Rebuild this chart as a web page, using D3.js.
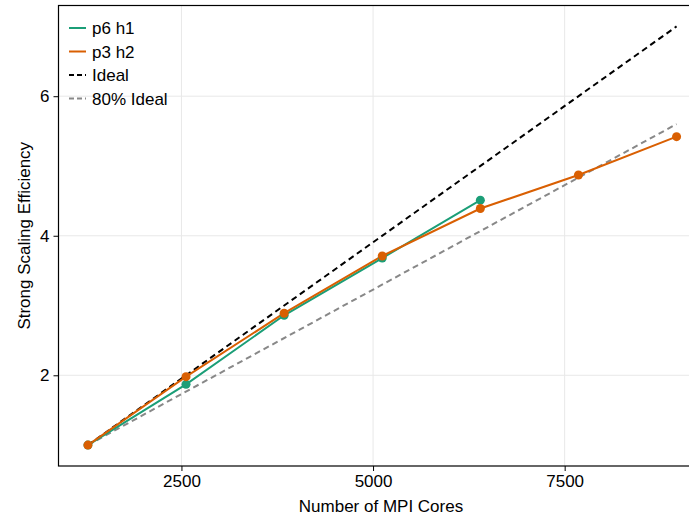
<!DOCTYPE html>
<html>
<head>
<meta charset="utf-8">
<script src="https://cdn.jsdelivr.net/npm/d3@7"></script>
<style>
  body { margin: 0; background: #fff; }
  text { font-family: "Liberation Sans", Arial, sans-serif; fill: #000; }
</style>
</head>
<body>
<div id="chart"></div>
<script>
// data
var cores = [1280, 2560, 3840, 5120, 6400, 7680, 8960];
var p6h1 = [1.0, 1.87, 2.86, 3.68, 4.51];
var p3h2 = [1.0, 1.98, 2.89, 3.71, 4.39, 4.87, 5.42];
var idealX = [1280, 8960];
var idealY = [1, 7];
var ideal80Y = [1, 5.6];
var xTicks = [2500, 5000, 7500];
var yTicks = [2, 4, 6];

const chart_width = 689;
const chart_height = 518;
const font_size = 17;

var svg = d3.select('#chart')
    .append('svg')
    .attr('width', chart_width)
    .attr('height', chart_height);

// makie style autolimits (5% padding)
var x = d3.scaleLinear().domain([896, 9344]).range([58.5, 706]);
var y = d3.scaleLinear().domain([0.7, 7.3]).range([466, 5.5]);

var plotLeft = x.range()[0], plotRight = x.range()[1];
var plotTop = y.range()[1], plotBottom = y.range()[0];

// grid
svg.selectAll('.gx').data(xTicks).enter().append('line')
    .attr('x1', d => x(d)).attr('x2', d => x(d))
    .attr('y1', plotTop).attr('y2', plotBottom)
    .attr('stroke', '#e8e8e8').attr('stroke-width', 1);
svg.selectAll('.gy').data(yTicks).enter().append('line')
    .attr('x1', plotLeft).attr('x2', plotRight)
    .attr('y1', d => y(d)).attr('y2', d => y(d))
    .attr('stroke', '#e8e8e8').attr('stroke-width', 1);

var line = d3.line().x(d => x(d[0])).y(d => y(d[1]));

function drawLine(xs, ys, color, dash) {
    svg.append('path')
        .datum(d3.zip(xs, ys))
        .attr('d', line)
        .attr('fill', 'none')
        .attr('stroke', color)
        .attr('stroke-width', 2)
        .attr('stroke-dasharray', dash || null);
}

drawLine(idealX, idealY, '#000', '6,4');
drawLine(idealX, ideal80Y, '#888', '6,4');
drawLine(cores.slice(0, p6h1.length), p6h1, '#1b9e77');
drawLine(cores, p3h2, '#d95f02');

function drawDots(xs, ys, color) {
    svg.selectAll(null)
        .data(d3.zip(xs, ys))
        .enter()
        .append('circle')
        .attr('cx', d => x(d[0]))
        .attr('cy', d => y(d[1]))
        .attr('r', 4.5)
        .attr('fill', color);
}
drawDots(cores.slice(0, p6h1.length), p6h1, '#1b9e77');
drawDots(cores, p3h2, '#d95f02');

// axes
var xAxis = svg.append('g')
    .attr('transform', 'translate(0,' + plotBottom + ')')
    .call(d3.axisBottom(x).tickValues(xTicks).tickSize(5).tickPadding(4).tickFormat(d3.format('d')));
var yAxis = svg.append('g')
    .attr('transform', 'translate(' + plotLeft + ',0)')
    .call(d3.axisLeft(y).tickValues(yTicks).tickSize(5).tickPadding(4).tickFormat(d3.format('d')));
[xAxis, yAxis].forEach(function(a) {
    a.select('.domain').remove();
    a.selectAll('text').attr('font-size', font_size).attr('font-family', '"Liberation Sans", Arial, sans-serif');
    a.selectAll('line').attr('stroke', '#000');
});

// frame
svg.append('rect')
    .attr('x', plotLeft).attr('y', plotTop)
    .attr('width', plotRight - plotLeft).attr('height', plotBottom - plotTop)
    .attr('fill', 'none').attr('stroke', '#000').attr('stroke-width', 1.2);

// labels
svg.append('text')
    .text('Number of MPI Cores')
    .attr('x', 381).attr('y', 512)
    .attr('text-anchor', 'middle')
    .attr('font-size', font_size);
svg.append('text')
    .text('Strong Scaling Efficiency')
    .attr('transform', 'translate(30,' + ((plotTop + plotBottom) / 2) + ') rotate(-90)')
    .attr('text-anchor', 'middle')
    .attr('font-size', font_size);

// legend
var legendItems = [
    {name: 'p6 h1', color: '#1b9e77', dash: null},
    {name: 'p3 h2', color: '#d95f02', dash: null},
    {name: 'Ideal', color: '#000', dash: '6,4'},
    {name: '80% Ideal', color: '#888', dash: '6,4'}
];
var lg = svg.selectAll('.lg').data(legendItems).enter().append('g')
    .attr('transform', (d, i) => 'translate(69,' + (28 + i * 23.5) + ')');
lg.append('line')
    .attr('x1', 0).attr('x2', 17)
    .attr('stroke', d => d.color)
    .attr('stroke-width', 2)
    .attr('stroke-dasharray', d => d.dash ? '5,3' : null);
lg.append('text')
    .text(d => d.name)
    .attr('x', 23).attr('y', 6)
    .attr('font-size', font_size);
</script>
</body>
</html>
